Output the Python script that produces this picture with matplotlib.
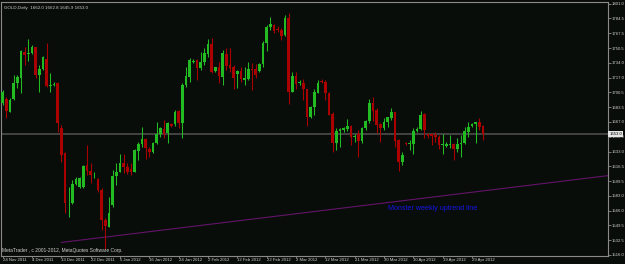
"""Redraw of a MetaTrader GOLD daily candlestick chart."""
import matplotlib

matplotlib.use("Agg")
import matplotlib.pyplot as plt
import numpy as np

SYMBOL = "GOLD,Daily"

opens = [
    1688.0, 1692.9, 1678.5, 1692.5, 1710.7, 1717.1, 1746.6, 1743.6, 1744.7, 1751.9,
    1720.1, 1726.6, 1737.9, 1708.0, 1708.4, 1710.7, 1659.5, 1631.2, 1574.4, 1574.4,
    1596.7, 1592.6, 1592.6, 1617.9, 1610.7, 1603.9, 1601.6, 1589.5, 1555.5, 1547.9,
    1572.5, 1605.4, 1610.4, 1619.8, 1615.3, 1613.4, 1610.4, 1634.2, 1641.4, 1647.1,
    1635.7, 1633.1, 1642.6, 1653.1, 1659.1, 1653.9, 1664.4, 1664.4, 1679.2, 1665.2,
    1708.8, 1718.2, 1734.5, 1737.2, 1728.5, 1735.3, 1744.0, 1755.3, 1724.7, 1729.6,
    1718.2, 1743.6, 1731.5, 1728.8, 1721.3, 1724.7, 1714.5, 1716.0, 1726.6, 1726.9,
    1724.7, 1732.6, 1756.1, 1774.3, 1776.9, 1772.4, 1771.2, 1765.6, 1784.5, 1701.2,
    1719.0, 1710.7, 1711.4, 1703.8, 1672.8, 1683.4, 1700.1, 1713.7, 1712.6, 1699.3,
    1675.8, 1642.6, 1656.9, 1657.6, 1658.4, 1662.1, 1649.4, 1653.1, 1645.6, 1659.5,
    1667.8, 1688.0, 1680.4, 1664.0, 1659.5, 1667.1, 1670.9, 1677.7, 1646.4, 1621.0,
    1642.6, 1641.8, 1641.8, 1656.5, 1658.4, 1675.8, 1653.1, 1652.8, 1652.0, 1650.1,
    1640.3, 1639.9, 1640.3, 1641.8, 1635.7, 1641.4, 1642.6, 1655.0, 1662.1, 1664.0,
    1666.3, 1662.0,
]
highs = [
    1703.1, 1695.5, 1693.6, 1720.1, 1720.1, 1748.5, 1752.3, 1760.6, 1753.8, 1752.5,
    1731.5, 1741.7, 1756.1, 1722.0, 1711.8, 1712.6, 1663.3, 1633.1, 1593.3, 1600.9,
    1604.7, 1604.7, 1617.9, 1640.7, 1619.8, 1610.4, 1602.8, 1591.4, 1557.4, 1582.0,
    1612.3, 1619.8, 1630.4, 1630.4, 1619.8, 1619.8, 1635.7, 1644.5, 1661.4, 1648.2,
    1638.8, 1644.5, 1666.3, 1660.6, 1669.0, 1667.1, 1665.2, 1680.4, 1680.4, 1710.7,
    1729.6, 1739.1, 1737.9, 1737.9, 1746.6, 1750.4, 1760.6, 1761.8, 1729.6, 1735.3,
    1748.5, 1751.2, 1750.4, 1731.5, 1725.8, 1729.6, 1729.6, 1735.3, 1733.4, 1732.6,
    1734.1, 1759.1, 1776.9, 1786.4, 1778.0, 1775.8, 1773.1, 1788.3, 1790.0, 1723.9,
    1723.9, 1714.5, 1715.2, 1704.5, 1684.9, 1703.8, 1714.5, 1715.2, 1714.5, 1701.2,
    1678.5, 1659.5, 1659.5, 1661.4, 1669.8, 1663.3, 1653.1, 1657.6, 1661.4, 1669.0,
    1693.3, 1695.5, 1682.3, 1665.2, 1670.9, 1672.8, 1683.0, 1678.5, 1647.1, 1633.1,
    1644.5, 1646.4, 1659.5, 1661.4, 1679.6, 1676.6, 1654.6, 1653.9, 1655.8, 1652.0,
    1653.1, 1644.5, 1652.0, 1642.6, 1648.2, 1652.0, 1661.4, 1667.1, 1665.9, 1667.1,
    1670.9, 1662.8,
]
lows = [
    1686.1, 1670.9, 1677.7, 1691.8, 1705.0, 1700.1, 1731.5, 1736.0, 1743.6, 1716.3,
    1701.2, 1725.8, 1706.9, 1701.2, 1707.6, 1655.8, 1621.7, 1563.1, 1559.3, 1573.7,
    1595.2, 1591.4, 1591.4, 1606.6, 1597.1, 1602.8, 1587.7, 1544.1, 1522.2, 1547.2,
    1570.6, 1595.2, 1609.6, 1608.5, 1607.3, 1606.6, 1609.6, 1623.6, 1638.8, 1624.4,
    1627.4, 1631.2, 1641.8, 1650.1, 1648.2, 1643.3, 1661.4, 1662.1, 1659.5, 1648.2,
    1706.9, 1712.6, 1733.4, 1714.5, 1725.8, 1731.5, 1740.9, 1722.8, 1723.9, 1710.7,
    1708.8, 1725.8, 1723.9, 1703.8, 1705.0, 1712.6, 1708.8, 1714.5, 1703.1, 1716.3,
    1723.9, 1729.6, 1747.8, 1771.2, 1767.5, 1769.3, 1759.9, 1764.4, 1686.8, 1700.5,
    1703.8, 1708.8, 1691.8, 1662.1, 1670.9, 1674.7, 1699.3, 1710.7, 1691.8, 1674.2,
    1633.1, 1634.9, 1638.8, 1655.8, 1656.9, 1640.7, 1644.5, 1627.4, 1642.6, 1657.6,
    1665.9, 1667.8, 1653.9, 1644.5, 1657.6, 1661.4, 1669.0, 1638.8, 1611.5, 1617.9,
    1640.7, 1634.9, 1630.4, 1655.8, 1657.6, 1648.2, 1648.2, 1640.7, 1644.5, 1635.7,
    1630.1, 1638.8, 1636.9, 1623.6, 1633.1, 1627.4, 1641.8, 1650.1, 1661.4, 1642.6,
    1657.6, 1645.9,
]
closes = [
    1701.2, 1679.2, 1691.8, 1710.7, 1717.5, 1747.4, 1742.9, 1744.7, 1752.3, 1720.1,
    1726.6, 1740.2, 1707.6, 1708.8, 1709.5, 1665.2, 1629.3, 1574.4, 1575.2, 1596.0,
    1602.0, 1602.8, 1617.2, 1611.5, 1606.6, 1604.7, 1589.5, 1555.5, 1548.7, 1563.1,
    1605.4, 1610.4, 1619.8, 1615.3, 1610.4, 1610.4, 1634.9, 1641.8, 1647.1, 1636.9,
    1633.1, 1642.6, 1653.1, 1659.5, 1653.1, 1665.2, 1662.1, 1677.7, 1665.2, 1708.8,
    1719.0, 1737.2, 1736.4, 1728.5, 1734.5, 1744.7, 1755.3, 1723.9, 1729.6, 1719.0,
    1744.7, 1730.7, 1728.5, 1716.3, 1724.7, 1715.6, 1716.7, 1726.6, 1725.8, 1720.1,
    1732.6, 1756.9, 1774.3, 1778.0, 1770.1, 1771.2, 1764.8, 1784.5, 1701.2, 1719.0,
    1709.9, 1711.8, 1703.8, 1672.8, 1683.4, 1700.5, 1711.4, 1712.2, 1699.3, 1674.9,
    1642.6, 1656.9, 1658.4, 1659.5, 1662.1, 1649.4, 1650.9, 1645.6, 1660.3, 1667.8,
    1688.0, 1679.6, 1663.3, 1659.5, 1667.1, 1672.0, 1678.5, 1645.6, 1621.0, 1629.3,
    1641.4, 1643.3, 1656.9, 1658.8, 1674.7, 1657.6, 1651.3, 1650.9, 1650.1, 1640.7,
    1641.4, 1641.8, 1641.4, 1635.7, 1641.4, 1643.3, 1656.5, 1661.4, 1664.4, 1666.3,
    1660.6, 1653.0,
]

date_labels = [
    "24 Nov 2011", "4 Dec 2011", "13 Dec 2011", "22 Dec 2011", "5 Jan 2012",
    "16 Jan 2012", "24 Jan 2012", "2 Feb 2012", "12 Feb 2012", "22 Feb 2012",
    "2 Mar 2012", "12 Mar 2012", "21 Mar 2012", "30 Mar 2012", "10 Apr 2012",
    "19 Apr 2012", "29 Apr 2012",
]
bars_per_label = 8

price_ticks = [
    1801.0, 1784.5, 1767.5, 1750.5, 1734.0, 1717.0, 1700.5, 1683.5, 1667.0,
    1650.0, 1633.0, 1616.5, 1599.5, 1583.0, 1566.0, 1549.5, 1532.5, 1516.0,
]

# trendline anchors (bar index, price)
trend_bars = [16, 166]
trend_prices = [1530.0, 1606.3]
trend_note = "Monster weekly uptrend line"
note_bar, note_price = 105, 1568.0

BG = "#090d09"
BULL = "#22bb22"
BEAR = "#aa0000"
TEXT = "#d0d0d0"
FRAME = "#8a8a8a"


def draw_candles(ax, o, h, l, c, width=0.72):
    o, h, l, c = map(np.asarray, (o, h, l, c))
    x = np.arange(len(o))
    up = c >= o
    colors = np.where(up, BULL, BEAR)
    ax.vlines(x, l, h, colors=colors, linewidth=0.75, zorder=3)
    bottom = np.minimum(o, c)
    height = np.maximum(np.abs(c - o), 0.9)
    ax.bar(x, height, width, bottom=bottom, color=colors, linewidth=0, zorder=4)


def main():
    fig = plt.figure(figsize=(6.25, 2.64), dpi=100)
    fig.patch.set_facecolor(BG)
    ax = fig.add_axes([0.002, 0.0303, 0.970, 0.962])
    ax.set_facecolor(BG)

    ax.set_xlim(-0.4, 165.0)
    ax.set_ylim(1514.6, 1803.0)

    last = closes[-1]
    ax.axhline(last, color="#474747", linewidth=1.3, zorder=2)
    ax.plot(trend_bars, trend_prices, color="#62146a", linewidth=0.8, zorder=2)
    draw_candles(ax, opens, highs, lows, closes)

    for spine in ax.spines.values():
        spine.set_color(FRAME)
        spine.set_linewidth(0.8)

    ax.yaxis.tick_right()
    ax.set_yticks(price_ticks)
    ax.set_yticklabels([f"{p:.1f}" for p in price_ticks])
    ax.set_xticks([i * bars_per_label for i in range(len(date_labels))])
    ax.set_xticklabels(date_labels, ha="left")
    ax.tick_params(axis="y", colors=FRAME, labelcolor=TEXT, length=2.2, width=0.6,
                   pad=1.0, labelsize=3.1)
    ax.tick_params(axis="x", colors=FRAME, labelcolor=TEXT, length=1.2, width=0.6,
                   pad=0.3, labelsize=3.1)
    for lab in ax.get_yticklabels() + ax.get_xticklabels():
        lab.set_family("Liberation Sans")

    # current price marker on the scale
    ax.text(1.003, last, f"{last:.1f}", transform=ax.get_yaxis_transform(),
            fontsize=3.1, family="Liberation Sans", color="#000000", va="center",
            ha="left", bbox=dict(boxstyle="square,pad=0.3", facecolor="#e6e6e6",
                                 edgecolor="none"), clip_on=False, zorder=6)

    head = f"{SYMBOL}  {opens[-1]:.1f} {highs[-1]:.1f} {lows[-1]:.1f} {closes[-1]:.1f}"
    ax.text(0.004, 0.985, head, transform=ax.transAxes, fontsize=3.2,
            family="Liberation Sans", color=TEXT, va="top", ha="left")
    ax.text(0.002, 0.012, "MetaTrader , c 2001-2012, MetaQuotes Software Corp.",
            transform=ax.transAxes, fontsize=3.5, family="Liberation Sans",
            color=TEXT, va="bottom", ha="left")
    ax.text(note_bar, note_price, trend_note, fontsize=5.1, family="Liberation Sans",
            color="#1414e6", va="center", ha="left", zorder=5)

    fig.savefig("out.png", dpi=100, facecolor=BG)
    plt.close(fig)


if __name__ == "__main__":
    main()
